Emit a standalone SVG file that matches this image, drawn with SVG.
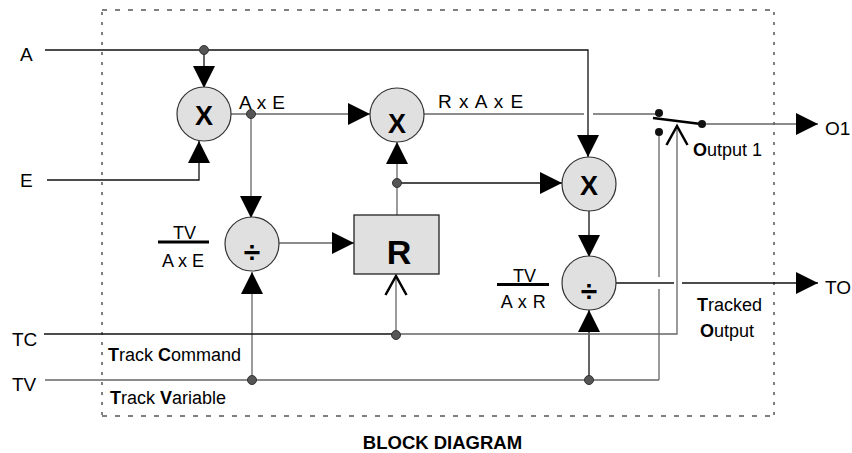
<svg xmlns="http://www.w3.org/2000/svg" width="852" height="453" viewBox="0 0 852 453">
<defs>
<marker id="arr" markerUnits="userSpaceOnUse" markerWidth="22" markerHeight="22" viewBox="0 0 21 21" refX="21" refY="10.5" orient="auto"><path d="M0,0 L21,10.5 L0,21 z" fill="#000"/></marker>
<marker id="chev" markerUnits="userSpaceOnUse" markerWidth="24" markerHeight="26" viewBox="-2 -2 24 26" refX="19" refY="10.5" orient="auto"><path d="M0,0 L19,10.5 L0,21" fill="none" stroke="#000" stroke-width="2.5"/></marker>
</defs>
<style>
.t{font-family:"Liberation Sans",Arial,sans-serif;fill:#000}
.lbl{font-size:19px}
.sm{font-size:18px}
.blk{stroke:#111;stroke-width:1.3;fill:none}
.gry{stroke:#666;stroke-width:1.3;fill:none}
.op{fill:#e0e0e0;stroke:#333;stroke-width:1.2}
.dot{fill:#555;stroke:#333;stroke-width:1}
.sdot{fill:#111}
.dh{stroke:#555;stroke-width:1.3;stroke-dasharray:5 8;fill:none}
.dv{stroke:#555;stroke-width:1.5;stroke-dasharray:3 7;fill:none}
.big{font-weight:bold}
</style>

<g id="boundary">
<line class="dh" x1="102" y1="10" x2="774" y2="10"/>
<line class="dh" x1="102" y1="416" x2="774" y2="416"/>
<line class="dv" x1="102" y1="12" x2="102" y2="416"/>
<line class="dv" x1="774" y1="12" x2="774" y2="416"/>
</g>

<g id="connectors">
<polyline class="blk" points="45,50 588,50 588,157" marker-end="url(#arr)"/>
<line class="blk" x1="204" y1="50" x2="204" y2="88" marker-end="url(#arr)"/>
<polyline class="blk" points="47,180 199,180 199,141" marker-end="url(#arr)"/>
<line class="gry" x1="231" y1="114" x2="370" y2="114" marker-end="url(#arr)"/>
<line class="gry" x1="251" y1="114" x2="251" y2="218" marker-end="url(#arr)"/>
<line class="gry" x1="279" y1="243" x2="354" y2="243" marker-end="url(#arr)"/>
<line class="gry" x1="397" y1="215" x2="397" y2="142" marker-end="url(#arr)"/>
<line class="blk" x1="397" y1="183" x2="562" y2="183" marker-end="url(#arr)"/>
<line class="gry" x1="424" y1="114" x2="584" y2="114"/>
<line class="gry" x1="593" y1="114" x2="659" y2="114"/>
<line class="blk" x1="589" y1="211" x2="589" y2="257" marker-end="url(#arr)"/>
<line class="blk" x1="589" y1="380" x2="589" y2="310" marker-end="url(#arr)"/>
<line class="gry" x1="252" y1="380" x2="252" y2="272" marker-end="url(#arr)"/>
<line class="blk" x1="616" y1="283" x2="674" y2="283"/>
<line class="blk" x1="682" y1="283" x2="818" y2="283" marker-end="url(#arr)"/>
<line class="blk" x1="44" y1="334" x2="396" y2="334"/>
<polyline class="gry" points="396,334 677,334 677,126" marker-end="url(#chev)"/>
<line class="gry" x1="396" y1="334" x2="396" y2="276" marker-end="url(#chev)"/>
<line class="gry" x1="45" y1="380" x2="659" y2="380"/>
<line class="gry" x1="659" y1="380" x2="659" y2="289"/>
<line class="gry" x1="659" y1="277" x2="659" y2="132"/>
<line class="gry" x1="702" y1="124" x2="818" y2="124" marker-end="url(#arr)"/>
<line stroke="#000" stroke-width="2.6" x1="653" y1="118" x2="701" y2="124"/>
<circle class="dot" cx="204" cy="50" r="4.5"/>
<circle class="dot" cx="251" cy="114" r="4.5"/>
<circle class="dot" cx="397" cy="183" r="4.5"/>
<circle class="dot" cx="396" cy="335" r="4.5"/>
<circle class="dot" cx="252" cy="380" r="4.5"/>
<circle class="dot" cx="589" cy="380" r="4.5"/>
<circle class="sdot" cx="659" cy="113" r="4"/>
<circle class="sdot" cx="659" cy="132" r="4"/>
<circle class="sdot" cx="702" cy="124" r="4"/>
</g>

<g id="mult1">
<circle class="op" cx="204" cy="114" r="27"/>
<text class="t big" x="204" y="125" font-size="27" text-anchor="middle">X</text>
</g>
<g id="mult2">
<circle class="op" cx="397" cy="115" r="27"/>
<text class="t big" x="397" y="133" font-size="27" text-anchor="middle">X</text>
</g>
<g id="mult3">
<circle class="op" cx="589" cy="184" r="27"/>
<text class="t big" x="589" y="195" font-size="27" text-anchor="middle">X</text>
</g>
<g id="div1">
<circle class="op" cx="252" cy="244" r="27"/>
<text class="t big" x="252" y="262" font-size="30" text-anchor="middle">÷</text>
</g>
<g id="div2">
<circle class="op" cx="589" cy="283" r="27"/>
<text class="t big" x="589" y="301" font-size="30" text-anchor="middle">÷</text>
</g>
<g id="R">
<rect x="354" y="215" width="85" height="59" fill="#e0e0e0" stroke="#222" stroke-width="1.3"/>
<text class="t big" x="399" y="264" font-size="34" text-anchor="middle">R</text>
</g>

<g id="labels">
<text class="t lbl" x="20" y="61">A</text>
<text class="t lbl" x="20" y="187">E</text>
<text class="t lbl" x="12" y="346">TC</text>
<text class="t lbl" x="12" y="391">TV</text>
<text class="t lbl" x="239" y="109" letter-spacing="0.4">A x E</text>
<text class="t lbl" x="438" y="108" letter-spacing="1">R x A x E</text>
<text class="t lbl" x="825" y="135">O1</text>
<text class="t lbl" x="825" y="294">TO</text>
<text class="t sm" x="108" y="361"><tspan font-weight="bold">T</tspan>rack <tspan font-weight="bold">C</tspan>ommand</text>
<text class="t sm" x="110" y="404"><tspan font-weight="bold">T</tspan>rack <tspan font-weight="bold">V</tspan>ariable</text>
<text class="t sm" x="693" y="156"><tspan font-weight="bold">O</tspan>utput 1</text>
<text class="t sm" x="697" y="311"><tspan font-weight="bold">T</tspan>racked</text>
<text class="t sm" x="700" y="337"><tspan font-weight="bold">O</tspan>utput</text>
<text class="t sm" x="184.5" y="239" text-anchor="middle">TV</text>
<line x1="158" y1="242" x2="209" y2="242" stroke="#000" stroke-width="3"/>
<text class="t sm" x="183" y="267" text-anchor="middle">A x E</text>
<text class="t sm" x="524.5" y="282" text-anchor="middle">TV</text>
<line x1="497" y1="284.5" x2="549" y2="284.5" stroke="#000" stroke-width="3"/>
<text class="t sm" x="523.5" y="308" text-anchor="middle" letter-spacing="0.5">A x R</text>
<text class="t big" x="442.5" y="449" font-size="18.5" text-anchor="middle">BLOCK DIAGRAM</text>
</g>
</svg>
